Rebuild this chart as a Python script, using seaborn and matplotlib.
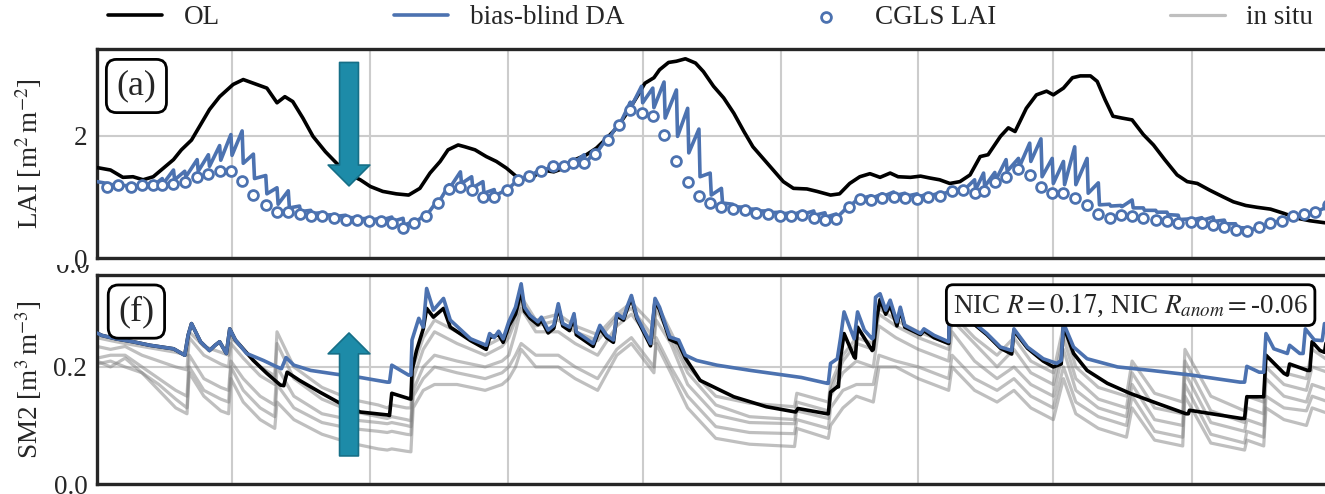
import numpy as np
import pandas as pd
import matplotlib
matplotlib.use("Agg")
import matplotlib.pyplot as plt
import seaborn as sns
from matplotlib.transforms import Bbox, TransformedBbox

# ---------------------------------------------------------------- data
# time axis: days since 2017-01-01
START = pd.Timestamp("2017-01-01")
END = pd.Timestamp("2020-01-01")

# CGLS LAI retrievals (10th, 20th and last day of every month)
cgls_2017 = [1.17, 1.19, 1.16, 1.19, 1.19, 1.19, 1.21, 1.25, 1.33, 1.37, 1.43, 1.43,
             1.26, 1.03, 0.86, 0.75, 0.76, 0.72, 0.68, 0.68, 0.65, 0.62, 0.62, 0.60,
             0.60, 0.57, 0.49, 0.57, 0.69, 0.90, 1.13, 1.17, 1.11, 1.00, 1.00, 1.11]
cgls_2018 = [1.27, 1.35, 1.43, 1.50, 1.51, 1.56, 1.56, 1.70, 1.93, 2.18, 2.43, 2.38,
             2.33, 2.02, 1.58, 1.24, 1.02, 0.90, 0.84, 0.80, 0.78, 0.74, 0.72, 0.69,
             0.68, 0.70, 0.66, 0.63, 0.64, 0.83, 0.96, 0.95, 0.99, 1.00, 0.99, 0.97]
cgls_2019 = [1.00, 1.02, 1.09, 1.11, 1.06, 1.09, 1.25, 1.33, 1.45, 1.36, 1.16, 1.07,
             1.06, 0.98, 0.86, 0.72, 0.65, 0.70, 0.68, 0.65, 0.63, 0.61, 0.57, 0.59,
             0.58, 0.54, 0.51, 0.46, 0.44, 0.51, 0.58, 0.61, 0.69, 0.72, 0.76, 0.86]

# bias-blind DA LAI: forecast just before and analysis just after each update
da_lai_start = 1.25
da_fc_2017 = [1.22, 1.20, 1.18, 1.19, 1.22, 1.30, 1.44, 1.42, 1.61, 1.69, 1.84, 2.02,
              2.08, 1.70, 1.35, 1.15, 1.10, 0.85, 0.78, 0.74, 0.71, 0.70, 0.66, 0.65,
              0.65, 0.67, 0.65, 0.60, 0.72, 0.95, 1.20, 1.41, 1.33, 1.25, 1.12, 1.12]
da_an_2017 = [1.20, 1.19, 1.17, 1.19, 1.20, 1.22, 1.28, 1.33, 1.42, 1.50, 1.60, 1.68,
              1.55, 1.30, 1.05, 0.88, 0.82, 0.76, 0.73, 0.70, 0.68, 0.66, 0.64, 0.62,
              0.62, 0.60, 0.54, 0.58, 0.70, 0.92, 1.16, 1.22, 1.15, 1.06, 1.02, 1.12]
da_fc_2018 = [1.28, 1.36, 1.45, 1.50, 1.53, 1.58, 1.69, 1.75, 1.98, 2.22, 2.55, 2.81,
              2.78, 2.88, 2.75, 2.45, 2.11, 1.39, 1.14, 0.88, 0.83, 0.80, 0.77, 0.75,
              0.74, 0.76, 0.77, 0.74, 0.72, 0.85, 1.00, 1.02, 1.05, 1.08, 1.06, 1.05]
da_an_2018 = [1.27, 1.35, 1.43, 1.49, 1.52, 1.56, 1.55, 1.72, 1.95, 2.20, 2.48, 2.54,
              2.46, 2.29, 1.99, 1.72, 1.33, 1.03, 0.90, 0.84, 0.80, 0.77, 0.74, 0.72,
              0.71, 0.72, 0.70, 0.67, 0.67, 0.84, 0.97, 0.98, 1.01, 1.02, 1.01, 1.00]
da_fc_2019 = [1.05, 1.06, 1.10, 1.15, 1.28, 1.39, 1.40, 1.61, 1.63, 1.88, 1.95, 1.63,
              1.58, 1.82, 1.63, 1.23, 0.88, 0.86, 0.95, 0.82, 0.78, 0.75, 0.70, 0.64,
              0.66, 0.67, 0.62, 0.56, 0.49, 0.50, 0.57, 0.62, 0.68, 0.72, 0.76, 0.84]
da_an_2019 = [1.02, 1.04, 1.09, 1.12, 1.12, 1.17, 1.28, 1.42, 1.50, 1.58, 1.33, 1.22,
              1.20, 1.20, 1.06, 0.87, 0.85, 0.84, 0.82, 0.78, 0.75, 0.71, 0.63, 0.62,
              0.62, 0.60, 0.56, 0.50, 0.45, 0.50, 0.57, 0.62, 0.68, 0.72, 0.76, 0.84]

# open-loop LAI
ol_lai_days = [0, 12, 23, 32, 41, 50, 59, 68, 75, 84, 92, 100, 109, 121, 130, 142, 151,
               160, 167, 174, 183, 192, 203, 213, 225, 234, 243, 254, 266, 277, 287,
               296, 305, 312, 321, 327, 336, 346, 355, 364, 373, 385, 395, 406, 415,
               425, 435, 444, 453, 462, 471, 480, 487, 495, 500, 508, 515, 523, 532,
               539, 548, 557, 566, 575, 583, 592, 601, 610, 619, 631, 640, 652, 660,
               669, 678, 687, 696, 705, 712, 723, 732, 740, 749, 758, 767, 776, 785,
               792, 803, 810, 816, 826, 835, 844, 850, 859, 867, 874, 883, 889, 896,
               903, 911, 920, 930, 939, 949, 960, 969, 978, 989, 1001, 1010, 1021,
               1031, 1043, 1055, 1067, 1078, 1090, 1095]
ol_lai_vals = [1.48, 1.44, 1.32, 1.33, 1.28, 1.33, 1.47, 1.61, 1.77, 1.93, 2.18, 2.43,
               2.64, 2.84, 2.92, 2.84, 2.78, 2.54, 2.64, 2.56, 2.29, 1.99, 1.74, 1.55,
               1.36, 1.28, 1.17, 1.09, 1.05, 1.03, 1.14, 1.39, 1.58, 1.77, 1.85, 1.82,
               1.77, 1.66, 1.58, 1.47, 1.33, 1.28, 1.44, 1.41, 1.47, 1.61, 1.69, 1.80,
               1.96, 2.13, 2.37, 2.64, 2.86, 2.95, 3.08, 3.20, 3.22, 3.26, 3.19, 3.05,
               2.81, 2.62, 2.37, 2.07, 1.82, 1.63, 1.44, 1.25, 1.14, 1.13, 1.09, 1.03,
               1.05, 1.22, 1.33, 1.38, 1.32, 1.39, 1.33, 1.32, 1.34, 1.31, 1.28, 1.22,
               1.25, 1.36, 1.66, 1.69, 1.99, 2.13, 2.07, 2.45, 2.67, 2.73, 2.67, 2.78,
               2.95, 2.98, 2.98, 2.89, 2.59, 2.32, 2.29, 2.26, 2.02, 1.85, 1.61, 1.36,
               1.25, 1.22, 1.11, 1.00, 0.92, 0.86, 0.83, 0.80, 0.73, 0.65, 0.61, 0.58,
               0.57]

# second-layer soil moisture, open loop
ol_sm_days = [0, 4, 17, 32, 47, 68, 78, 81, 84, 92, 100, 105, 109, 115, 118, 123, 139,
              151, 163, 166, 169, 180, 198, 216, 234, 258, 260, 262, 277, 279, 280,
              284, 290, 293, 299, 308, 314, 332, 346, 349, 357, 361, 366, 372, 377,
              380, 385, 392, 395, 401, 406, 410, 414, 420, 424, 426, 441, 447, 453,
              459, 462, 468, 471, 475, 480, 492, 496, 500, 509, 517, 523, 536, 566,
              595, 621, 623, 649, 650, 652, 658, 659, 661, 664, 673, 674, 676, 689,
              690, 693, 696, 701, 705, 711, 714, 718, 732, 735, 744, 757, 758, 772,
              784, 791, 803, 813, 815, 827, 841, 850, 857, 859, 868, 880, 898, 918,
              942, 968, 970, 971, 1017, 1020, 1022, 1036, 1037, 1039, 1055, 1058,
              1060, 1076, 1078, 1080, 1087, 1091, 1093, 1095]
ol_sm_vals = [0.258, 0.254, 0.248, 0.243, 0.237, 0.231, 0.220, 0.254, 0.274, 0.243,
              0.228, 0.237, 0.243, 0.223, 0.265, 0.246, 0.211, 0.189, 0.169, 0.168,
              0.191, 0.177, 0.157, 0.138, 0.123, 0.118, 0.117, 0.155, 0.146, 0.145,
              0.194, 0.228, 0.265, 0.300, 0.285, 0.300, 0.268, 0.245, 0.230, 0.250,
              0.255, 0.242, 0.270, 0.290, 0.330, 0.295, 0.283, 0.272, 0.280, 0.258,
              0.266, 0.303, 0.270, 0.262, 0.286, 0.255, 0.235, 0.266, 0.250, 0.242,
              0.287, 0.280, 0.298, 0.318, 0.282, 0.236, 0.313, 0.298, 0.247, 0.240,
              0.215, 0.177, 0.149, 0.132, 0.123, 0.129, 0.120, 0.120, 0.157, 0.166,
              0.166, 0.217, 0.257, 0.217, 0.215, 0.268, 0.228, 0.230, 0.283, 0.315,
              0.290, 0.305, 0.270, 0.298, 0.268, 0.255, 0.262, 0.250, 0.240, 0.300,
              0.285, 0.266, 0.255, 0.232, 0.222, 0.262, 0.232, 0.210, 0.200, 0.205,
              0.270, 0.223, 0.194, 0.172, 0.155, 0.138, 0.120, 0.120, 0.126, 0.112,
              0.112, 0.149, 0.149, 0.149, 0.220, 0.189, 0.186, 0.205, 0.194, 0.194,
              0.243, 0.228, 0.225, 0.248, 0.250]

# second-layer soil moisture, bias-blind DA
da_sm_days = [0, 4, 17, 32, 47, 68, 78, 81, 84, 92, 100, 105, 109, 115, 118, 123, 133,
              148, 160, 164, 168, 175, 190, 211, 234, 258, 260, 262, 270, 277, 279,
              280, 286, 290, 293, 299, 308, 314, 332, 346, 349, 353, 357, 361, 366,
              372, 377, 380, 385, 392, 395, 401, 406, 410, 414, 420, 424, 426, 441,
              447, 453, 459, 462, 468, 471, 475, 480, 492, 496, 500, 509, 517, 523,
              533, 551, 581, 611, 626, 649, 650, 652, 658, 661, 664, 669, 673, 676,
              682, 689, 690, 692, 696, 701, 705, 711, 714, 718, 732, 735, 744, 757,
              758, 772, 784, 791, 803, 813, 815, 827, 841, 853, 857, 859, 868, 880,
              907, 937, 973, 1016, 1020, 1022, 1033, 1037, 1039, 1046, 1058, 1060,
              1069, 1072, 1074, 1082, 1089, 1091, 1095]
da_sm_vals = [0.258, 0.254, 0.248, 0.243, 0.237, 0.231, 0.220, 0.254, 0.274, 0.243,
              0.228, 0.237, 0.243, 0.223, 0.265, 0.246, 0.223, 0.211, 0.200, 0.197,
              0.216, 0.203, 0.194, 0.188, 0.182, 0.174, 0.174, 0.203, 0.194, 0.186,
              0.186, 0.246, 0.283, 0.268, 0.334, 0.297, 0.317, 0.280, 0.248, 0.237,
              0.257, 0.250, 0.261, 0.248, 0.277, 0.302, 0.342, 0.302, 0.288, 0.277,
              0.285, 0.263, 0.271, 0.308, 0.274, 0.268, 0.291, 0.260, 0.240, 0.271,
              0.254, 0.246, 0.291, 0.283, 0.302, 0.322, 0.285, 0.240, 0.317, 0.302,
              0.251, 0.246, 0.220, 0.211, 0.203, 0.194, 0.186, 0.182, 0.172, 0.172,
              0.206, 0.214, 0.251, 0.294, 0.268, 0.248, 0.294, 0.263, 0.248, 0.250,
              0.319, 0.325, 0.297, 0.314, 0.277, 0.302, 0.271, 0.257, 0.265, 0.254,
              0.243, 0.310, 0.290, 0.268, 0.257, 0.234, 0.228, 0.265, 0.234, 0.214,
              0.206, 0.211, 0.275, 0.234, 0.214, 0.200, 0.194, 0.186, 0.174, 0.174,
              0.201, 0.191, 0.191, 0.257, 0.231, 0.223, 0.237, 0.223, 0.223, 0.265,
              0.246, 0.245, 0.274, 0.270]

# in situ soil moisture stations
insitu_days = [0, 12, 25, 40, 55, 70, 80, 82, 95, 110, 117, 119, 130, 145, 158, 160,
               175, 200, 225, 250, 258, 262, 275, 279, 281, 290, 300, 320, 345, 360,
               366, 372, 377, 390, 410, 425, 445, 462, 475, 495, 497, 510, 525, 550,
               580, 620, 622, 650, 652, 663, 675, 690, 695, 710, 730, 757, 760, 780,
               800, 815, 830, 850, 859, 870, 890, 915, 920, 940, 965, 967, 990, 1020,
               1022, 1037, 1039, 1055, 1075, 1080, 1095]
insitu_1 = [0.250, 0.245, 0.240, 0.235, 0.230, 0.225, 0.220, 0.260, 0.235, 0.225,
            0.220, 0.250, 0.230, 0.200, 0.185, 0.260, 0.200, 0.165, 0.145, 0.135,
            0.130, 0.135, 0.130, 0.130, 0.200, 0.250, 0.280, 0.260, 0.235, 0.250,
            0.260, 0.290, 0.320, 0.280, 0.290, 0.270, 0.255, 0.290, 0.310, 0.270,
            0.310, 0.260, 0.200, 0.150, 0.138, 0.132, 0.155, 0.140, 0.170, 0.220,
            0.250, 0.240, 0.300, 0.280, 0.260, 0.240, 0.290, 0.250, 0.220, 0.250,
            0.210, 0.190, 0.270, 0.200, 0.165, 0.150, 0.210, 0.155, 0.140, 0.230,
            0.150, 0.125, 0.150, 0.140, 0.220, 0.190, 0.180, 0.230, 0.210]
insitu_2 = [0.235, 0.230, 0.235, 0.220, 0.210, 0.200, 0.195, 0.250, 0.220, 0.205,
            0.200, 0.240, 0.215, 0.185, 0.170, 0.240, 0.180, 0.145, 0.125, 0.115,
            0.112, 0.115, 0.110, 0.108, 0.180, 0.230, 0.260, 0.240, 0.220, 0.235,
            0.250, 0.280, 0.310, 0.270, 0.280, 0.260, 0.245, 0.285, 0.300, 0.250,
            0.300, 0.250, 0.190, 0.135, 0.115, 0.110, 0.140, 0.125, 0.160, 0.210,
            0.240, 0.230, 0.290, 0.270, 0.250, 0.230, 0.280, 0.240, 0.200, 0.230,
            0.190, 0.170, 0.250, 0.180, 0.145, 0.130, 0.190, 0.130, 0.120, 0.210,
            0.125, 0.105, 0.130, 0.120, 0.200, 0.170, 0.160, 0.200, 0.190]
insitu_3 = [0.215, 0.220, 0.220, 0.200, 0.180, 0.160, 0.150, 0.220, 0.180, 0.165,
            0.160, 0.210, 0.180, 0.150, 0.135, 0.200, 0.150, 0.120, 0.110, 0.105,
            0.103, 0.105, 0.100, 0.098, 0.160, 0.200, 0.220, 0.210, 0.200, 0.210,
            0.220, 0.260, 0.300, 0.260, 0.260, 0.240, 0.220, 0.270, 0.290, 0.240,
            0.280, 0.240, 0.170, 0.118, 0.105, 0.103, 0.125, 0.112, 0.150, 0.190,
            0.210, 0.200, 0.270, 0.250, 0.230, 0.210, 0.260, 0.210, 0.180, 0.200,
            0.170, 0.150, 0.230, 0.160, 0.130, 0.115, 0.170, 0.110, 0.100, 0.190,
            0.105, 0.090, 0.110, 0.100, 0.180, 0.150, 0.140, 0.170, 0.160]
insitu_4 = [0.210, 0.200, 0.215, 0.190, 0.170, 0.145, 0.130, 0.200, 0.160, 0.145,
            0.140, 0.200, 0.160, 0.130, 0.115, 0.170, 0.130, 0.105, 0.095, 0.090,
            0.088, 0.090, 0.085, 0.084, 0.150, 0.180, 0.200, 0.190, 0.180, 0.190,
            0.200, 0.220, 0.240, 0.220, 0.220, 0.200, 0.180, 0.230, 0.250, 0.200,
            0.250, 0.200, 0.150, 0.098, 0.088, 0.086, 0.110, 0.095, 0.130, 0.160,
            0.170, 0.170, 0.220, 0.210, 0.200, 0.180, 0.220, 0.180, 0.160, 0.180,
            0.150, 0.130, 0.200, 0.140, 0.115, 0.100, 0.150, 0.090, 0.080, 0.170,
            0.085, 0.070, 0.090, 0.080, 0.150, 0.130, 0.125, 0.150, 0.140]
insitu_5 = [0.205, 0.210, 0.200, 0.190, 0.160, 0.130, 0.120, 0.190, 0.150, 0.125,
            0.120, 0.180, 0.140, 0.110, 0.095, 0.140, 0.110, 0.085, 0.070, 0.060,
            0.058, 0.060, 0.056, 0.055, 0.130, 0.160, 0.170, 0.170, 0.160, 0.170,
            0.180, 0.200, 0.230, 0.200, 0.200, 0.180, 0.160, 0.220, 0.240, 0.190,
            0.240, 0.190, 0.130, 0.078, 0.068, 0.064, 0.095, 0.078, 0.100, 0.130,
            0.150, 0.140, 0.200, 0.200, 0.180, 0.160, 0.200, 0.160, 0.140, 0.160,
            0.130, 0.110, 0.180, 0.120, 0.095, 0.080, 0.130, 0.075, 0.065, 0.150,
            0.070, 0.058, 0.075, 0.065, 0.130, 0.110, 0.100, 0.130, 0.120]

nic_text = r"NIC $R = 0.17$, NIC $R_{anom} = $-0.06"

# ---------------------------------------------------------------- derived
cgls_dates = []
for year in (2017, 2018, 2019):
    for month in range(1, 13):
        month_start = pd.Timestamp(year=year, month=month, day=1)
        for day in (10, 20):
            cgls_dates.append(month_start + pd.Timedelta(days=day - 1))
        cgls_dates.append(month_start + pd.offsets.MonthEnd(0))
cgls_days = np.array([(d - START).days for d in cgls_dates])
cgls_vals = np.array(cgls_2017 + cgls_2018 + cgls_2019)
da_fc = da_fc_2017 + da_fc_2018 + da_fc_2019
da_an = da_an_2017 + da_an_2018 + da_an_2019

# forecast / analysis saw-tooth of the DA run
da_lai_x = [0]
da_lai_y = [da_lai_start]
for d, f, a in zip(cgls_days, da_fc, da_an):
    da_lai_x += [d, d + 1]
    da_lai_y += [f, a]

grid_dates = pd.date_range(START, END, freq="4MS")
grid_days = [(d - START).days for d in grid_dates]

# ---------------------------------------------------------------- style
FS = 19.5
BLUE = "#4C72B0"
sns.set_theme(style="whitegrid")
plt.rcParams["font.family"] = ["Liberation Serif", "DejaVu Serif"]
plt.rcParams["mathtext.fontset"] = "stix"
plt.rcParams.update({
    "font.size": FS,
    "axes.labelsize": FS,
    "xtick.labelsize": FS,
    "ytick.labelsize": FS,
    "legend.fontsize": FS,
    "axes.edgecolor": "#262626",
    "axes.linewidth": 2.4,
    "grid.color": "#cccccc",
    "grid.linewidth": 1.5,
    "ytick.major.size": 0,
    "xtick.major.size": 0,
    "ytick.major.pad": 7,
})

fig = plt.figure(figsize=(13.25, 4.94), dpi=100)
ax_top = fig.add_axes([0.0732, 0.4777, 0.9298, 0.4231])
ax_bot = fig.add_axes([0.0732, 0.0202, 0.9298, 0.4231])

# ---------------------------------------------------------------- LAI panel
sns.lineplot(x=ol_lai_days, y=ol_lai_vals, ax=ax_top, color="black", linewidth=2.6,
             estimator=None, sort=False, label="OL", zorder=3)
sns.lineplot(x=da_lai_x, y=da_lai_y, ax=ax_top, color=BLUE, linewidth=2.6,
             estimator=None, sort=False, label="bias-blind DA", zorder=3)
sns.scatterplot(x=cgls_days, y=cgls_vals, ax=ax_top, marker="o", s=50,
                facecolor="white", edgecolor=BLUE, linewidth=2.0,
                label="CGLS LAI", zorder=4)

# ---------------------------------------------------------------- SM2 panel
for k, vals in enumerate([insitu_1, insitu_2, insitu_3, insitu_4, insitu_5]):
    sns.lineplot(x=insitu_days, y=vals, ax=ax_bot, color="gray", alpha=0.5,
                 linewidth=2.3, estimator=None, sort=False,
                 label="in situ" if k == 0 else None, zorder=2)
sns.lineplot(x=ol_sm_days, y=ol_sm_vals, ax=ax_bot, color="black", linewidth=2.6,
             estimator=None, sort=False, zorder=3)
sns.lineplot(x=da_sm_days, y=da_sm_vals, ax=ax_bot, color=BLUE, linewidth=2.6,
             estimator=None, sort=False, zorder=4)

# ---------------------------------------------------------------- axes cosmetics
for ax in (ax_top, ax_bot):
    leg = ax.get_legend()
    if leg is not None:
        leg.remove()
    ax.set_xlim(0, (END - START).days)
    ax.set_xticks(grid_days)
    ax.tick_params(labelbottom=False)
    ax.set_xlabel("")
    ax.set_axisbelow(True)
    ax.grid(True, which="major")
    for sp in ax.spines.values():
        sp.set_color("#262626")
        sp.set_linewidth(2.4)

ax_top.set_ylim(0, 3.42)
ax_top.set_yticks([0, 2])
ax_top.set_yticklabels(["0", "2"])
ax_top.set_ylabel(r"LAI [m$^2\,$m$^{-2}$]")
ax_top.yaxis.set_label_coords(-0.043, 0.5)

ax_bot.set_ylim(0, 0.357)
ax_bot.set_yticks([0.0, 0.2])
ax_bot.set_yticklabels(["0.0", "0.2"])
ax_bot.set_ylabel(r"SM2 [m$^3\,$m$^{-3}$]")
ax_bot.yaxis.set_label_coords(-0.043, 0.5)

box = dict(boxstyle="round,pad=0.28", fc="white", ec="black", lw=2.0)
ax_top.text(0.032, 0.823, "(a)", transform=ax_top.transAxes, fontsize=26,
            ha="center", va="center", bbox=box, zorder=6)
ax_bot.text(0.032, 0.825, "(f)", transform=ax_bot.transAxes, fontsize=26,
            ha="center", va="center", bbox=box, zorder=6)
ax_bot.text(0.839, 0.856, nic_text, transform=ax_bot.transAxes, fontsize=FS,
            ha="center", va="center",
            bbox=dict(boxstyle="round,pad=0.25", fc="white", ec="black", lw=2.0),
            zorder=6)

# direction arrows
arrow_kw = dict(arrowstyle="simple,head_length=0.75,head_width=1.5,tail_width=0.68",
                mutation_scale=20, fc="#1d8ba8", ec="#166f87", lw=1.2,
                shrinkA=0, shrinkB=0)
ax_top.annotate("", xy=(224, 1.18), xytext=(224, 3.20), arrowprops=arrow_kw, zorder=5)
ax_bot.annotate("", xy=(224, 0.258), xytext=(224, 0.048), arrowprops=arrow_kw, zorder=5)

# tick label of the neighbouring panel, only its lower part shows in the gap
ghost = fig.text(0.0679, 0.4605, "0.0", ha="right", va="center", fontsize=FS,
                 color="#262626")
ghost.set_clip_box(TransformedBbox(Bbox.from_extents(0, 0, 1, 0.4636), fig.transFigure))
ghost.set_clip_on(True)

# shared legend
h_top, l_top = ax_top.get_legend_handles_labels()
h_bot, l_bot = ax_bot.get_legend_handles_labels()
fig.legend(h_top + h_bot[:1], l_top + l_bot[:1], loc="center",
           bbox_to_anchor=(0.0732, 0.9636, 0.926, 0.0), mode="expand", ncol=4,
           frameon=False, borderaxespad=0, handlelength=2.0, handletextpad=0.8)

fig.savefig("out.png", dpi=100)
